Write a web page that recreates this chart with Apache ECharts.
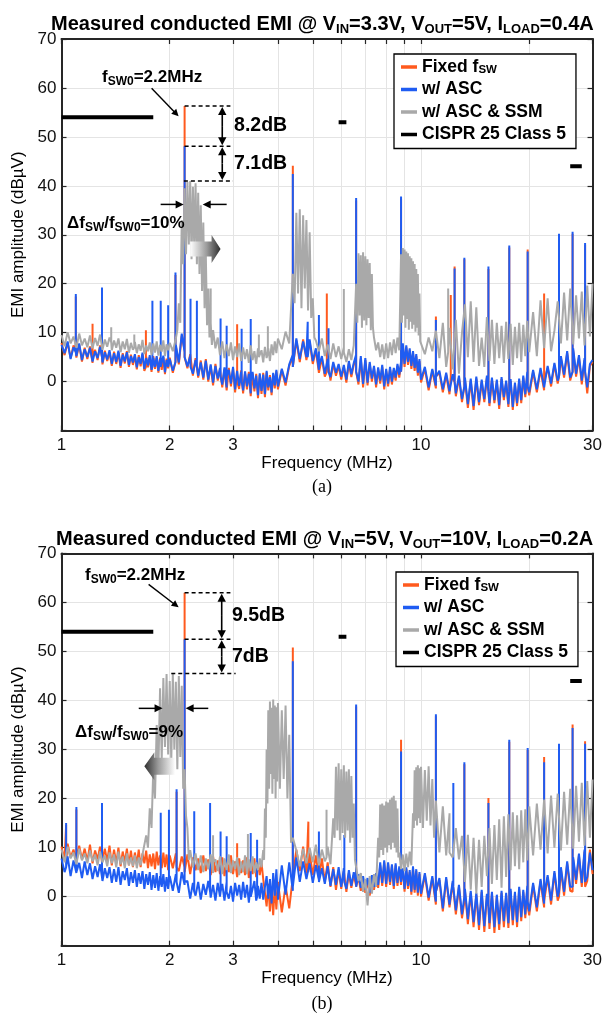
<!DOCTYPE html>
<html>
<head>
<meta charset="utf-8">
<script src="https://cdn.jsdelivr.net/npm/echarts@6/dist/echarts.min.js"></script>
<style>
html,body{margin:0;padding:0;background:#fff;}
#chart{width:605px;height:1013px;}
</style>
</head>
<body>
<div id="chart"></div>
<script>
// Sample frequencies (MHz) shared by every measured trace
const freqMHz = [
  1.00,1.02,1.04,1.06,1.08,1.10,1.12,1.14,1.16,1.18,
  1.20,1.22,1.24,1.26,1.28,1.30,1.32,1.34,1.36,1.38,
  1.40,1.42,1.44,1.46,1.48,1.50,1.52,1.54,1.56,1.58,
  1.60,1.62,1.64,1.66,1.68,1.70,1.72,1.74,1.76,1.78,
  1.80,1.82,1.84,1.86,1.88,1.90,1.92,1.94,1.96,1.98,
  2.00,2.04,2.08,2.12,2.16,2.20,2.24,2.28,2.32,2.36,
  2.40,2.44,2.48,2.52,2.56,2.60,2.64,2.68,2.72,2.76,
  2.80,2.84,2.88,2.92,2.96,3.00,3.04,3.08,3.12,3.16,
  3.20,3.24,3.28,3.32,3.36,3.40,3.44,3.48,3.52,3.56,
  3.60,3.64,3.68,3.72,3.76,3.80,3.84,3.88,3.92,3.96,
  4.0,4.1,4.2,4.3,4.4,4.5,4.6,4.7,4.8,4.9,
  5.0,5.1,5.2,5.3,5.4,5.5,5.6,5.7,5.8,5.9,
  6.0,6.1,6.2,6.3,6.4,6.5,6.6,6.7,6.8,6.9,
  7.0,7.1,7.2,7.3,7.4,7.5,7.6,7.7,7.8,7.9,
  8.0,8.1,8.2,8.3,8.4,8.5,8.6,8.7,8.8,8.9,
  9.0,9.1,9.2,9.3,9.4,9.5,9.6,9.7,9.8,9.9,
  10.0,10.25,10.5,10.75,11.0,11.25,11.5,11.75,12.0,12.25,
  12.5,12.75,13.0,13.25,13.5,13.75,14.0,14.25,14.5,14.75,
  15.0,15.25,15.5,15.75,16.0,16.25,16.5,16.75,17.0,17.25,
  17.5,17.75,18.0,18.25,18.5,18.75,19.0,19.25,19.5,19.75,
  20.0,20.5,21.0,21.5,22.0,22.5,23.0,23.5,24.0,24.5,
  25.0,25.5,26.0,26.5,27.0,27.5,28.0,28.5,29.0,29.5,
  30.0
];

// ---------- (a) VIN=3.3V, VOUT=5V, ILOAD=0.4A : levels in dBuV ----------
const fixedA = [
  7.9,5.4,8.0,4.8,7.4,4.9,7.6,4.1,6.9,4.6,
  7.2,3.8,6.5,4.4,7.4,3.5,6.3,4.2,6.0,3.2,
  6.1,3.6,6.0,2.8,5.8,3.7,6.2,3.0,5.5,3.4,
  5.3,2.5,5.4,3.1,5.6,2.2,5.1,2.9,5.0,2.0,
  5.2,2.6,4.9,1.8,4.9,2.4,5.0,1.5,4.7,2.7,
  4.9,1.8,7.2,3.5,9.4,6.4,2.7,5.6,1.2,4.8,
  0.8,4.3,0.4,4.6,0.0,3.2,-0.8,3.6,0.2,2.5,
  -1.2,2.6,-1.8,2.8,-1.0,2.7,-2.2,2.5,-1.5,2.3,
  -2.4,1.8,-1.6,2.0,-3.0,1.7,-2.0,1.6,-3.4,1.4,
  -2.5,1.8,-3.2,1.9,-1.8,1.3,-2.8,1.5,-1.4,2.1,
  -1.6,2.3,-0.8,3.2,5.0,8.4,4.0,8.6,4.4,8.2,
  3.6,6.4,1.8,4.8,1.0,4.2,0.2,3.6,1.2,3.2,
  0.4,3.0,-0.2,3.8,0.9,3.4,5.0,-0.6,4.7,-1.2,
  4.4,-0.8,3.6,0.0,2.8,-1.2,2.5,-0.4,3.0,-1.6,
  2.2,-1.0,2.6,-0.6,2.4,0.2,3.2,0.8,3.6,7.4,
  3.0,7.0,3.4,6.4,2.6,5.8,2.2,5.2,1.2,4.2,
  -0.2,2.6,-1.8,2.2,-1.4,1.8,-2.2,1.4,-2.6,1.1,
  -3.0,0.8,-4.2,0.4,-5.4,0.2,-5.8,0.6,-4.8,0.0,
  -4.2,0.8,-5.0,0.4,-4.4,0.0,-5.6,0.5,-3.8,-0.2,
  -5.2,0.1,-5.8,-0.6,-5.0,0.2,-4.4,0.8,-3.2,1.6,
  -2.8,2.0,-2.2,2.4,-1.8,2.8,-1.0,3.4,-0.4,4.8,
  0.8,5.8,0.2,6.4,1.0,5.0,-0.6,4.4,-2.4,3.2,
  4.0
];
const ascA = [
  7.5,5.8,8.2,4.6,7.0,5.2,7.8,4.4,6.6,5.0,
  6.9,4.1,6.2,4.8,7.1,3.9,6.0,4.5,6.4,3.6,
  5.8,4.0,6.3,3.2,5.5,4.1,6.0,3.4,5.2,3.9,
  5.6,2.9,5.0,3.6,5.9,2.6,4.8,3.3,5.4,2.4,
  4.9,3.0,5.2,2.2,4.6,2.8,5.3,1.9,4.4,3.1,
  4.6,2.2,7.5,3.9,9.8,6.0,3.1,5.2,1.6,4.4,
  1.2,3.9,0.8,4.3,0.4,3.5,-0.2,3.2,0.6,2.8,
  -0.6,2.9,-1.2,2.4,-0.4,3.0,-1.6,2.2,-0.9,1.9,
  -1.8,2.1,-1.0,1.6,-2.4,2.0,-1.4,1.2,-2.8,1.7,
  -1.9,1.4,-2.6,2.2,-1.2,0.9,-2.2,1.8,-0.8,2.4,
  -1.0,2.6,-0.2,3.5,5.5,8.8,4.6,8.2,5.0,8.6,
  4.2,6.8,2.4,5.2,1.6,4.6,0.9,4.0,1.8,3.6,
  1.0,3.4,0.4,4.2,1.5,3.8,5.5,0.0,5.2,-0.5,
  4.8,-0.2,4.0,0.6,3.2,-0.6,2.9,0.2,3.4,-1.0,
  2.6,-0.4,3.0,0.0,2.8,0.8,3.6,1.4,4.0,7.8,
  3.6,7.4,4.0,6.8,3.2,6.2,2.8,5.6,1.8,4.6,
  0.4,3.0,-1.2,2.6,-0.8,2.2,-1.6,1.8,-2.0,1.5,
  -2.4,1.2,-3.6,0.8,-4.6,0.6,-5.0,1.0,-4.2,0.4,
  -3.6,1.2,-4.4,0.8,-3.8,0.4,-4.8,0.9,-3.2,0.2,
  -4.6,0.5,-5.2,-0.2,-4.4,0.6,-3.8,1.2,-2.6,2.0,
  -2.2,2.4,-1.6,2.8,-1.2,3.2,-0.4,3.8,0.2,5.2,
  1.4,6.2,0.8,6.8,1.6,5.4,0.2,4.8,-1.2,3.6,
  4.4
];
const ssmA = [
  9.5,7.2,10.1,7.8,9.2,6.9,9.8,7.4,8.8,7.0,
  9.4,6.8,8.9,7.3,9.6,6.5,8.6,7.1,9.0,6.4,
  8.4,6.9,8.8,6.0,8.2,6.6,8.7,5.9,7.9,6.5,
  8.1,5.8,7.6,6.3,8.5,5.6,7.4,6.2,8.0,5.4,
  7.8,5.9,8.2,5.3,7.5,6.1,8.4,5.2,7.6,6.4,
  7.9,6.2,8.8,16.0,33.0,39.5,40.8,41.0,39.8,40.5,
  38.6,36.0,32.5,26.0,19.0,14.0,10.5,6.8,9.0,5.4,
  8.2,4.8,7.6,5.2,8.0,4.4,7.2,5.0,7.8,4.2,
  7.0,4.6,6.6,3.8,7.4,4.4,6.2,3.6,6.8,4.6,
  6.4,3.9,7.1,4.8,6.8,4.2,7.6,5.4,8.2,5.8,
  8.8,6.6,10.2,7.8,22.0,34.5,35.2,34.0,33.0,30.5,
  17.0,8.4,6.2,8.8,5.2,7.6,4.6,7.8,5.0,7.2,
  4.6,7.0,4.0,6.6,4.4,7.4,20.0,26.2,25.8,26.4,
  25.6,25.0,24.2,22.0,9.0,6.4,8.0,5.0,7.6,4.6,
  7.8,4.8,8.0,5.4,8.6,5.8,9.0,6.4,26.0,27.3,
  27.0,26.6,26.2,25.6,25.2,24.6,24.0,23.0,22.0,18.0,
  8.0,5.6,9.0,6.2,10.4,4.8,12.0,3.0,11.0,2.5,
  12.6,1.6,10.0,15.8,5.0,16.4,4.0,15.2,3.2,9.0,
  3.0,13.2,4.2,12.6,3.6,12.0,4.8,11.4,3.8,12.2,
  4.6,11.8,3.4,11.2,4.8,12.0,4.0,11.6,5.2,12.4,
  6.0,14.2,5.2,16.6,6.8,17.0,6.2,10.4,16.4,7.8,
  18.2,8.4,19.0,7.6,17.6,8.8,18.4,7.4,19.6,9.2,
  20.0
];
// extra samples inside the spread-spectrum humps: [MHz, dBuV]
const ssmBandA = [
  [2.10,10.5],[2.14,12.0],[2.18,24.0],[2.22,26.0],[2.26,28.0],[2.30,25.0],[2.34,27.5],
  [2.38,24.0],[2.42,22.0],[2.46,18.5],[2.50,15.0],[2.54,11.5],[2.58,9.0],[2.62,7.5],
  [4.45,16.0],[4.55,18.0],[4.65,15.0],[4.75,19.0],[4.85,14.5],[4.95,13.0],[5.05,9.0],
  [6.65,12.0],[6.75,13.5],[6.85,11.0],[6.95,12.5],[7.05,11.5],[7.15,13.0],[7.25,10.5],[7.35,11.0],
  [8.85,12.0],[8.95,13.5],[9.05,11.0],[9.15,12.8],[9.25,10.6],[9.35,12.2],[9.45,10.8],
  [9.55,11.6],[9.65,10.2],[9.75,11.0],[9.85,9.4],[9.95,8.2]
];
// harmonic lines: [MHz, floor dBuV, peak dBuV]
const fixedSpikesA = [
  [1.096,6.0,17.4],[1.22,5.0,11.8],[1.296,5.0,18.6],[1.717,3.0,10.5],[2.075,4.0,21.8],
  [2.2,5.0,56.3],[3.08,0.0,11.7],[4.4,3.0,44.1],[5.47,2.0,18.0],[6.6,2.0,37.0],[8.8,2.0,37.4],
  [11.0,1.0,13.3],[12.1,1.0,17.7],[12.4,0.0,23.5],[13.2,-1.0,25.0],[15.4,-2.0,23.0],
  [17.6,-2.0,27.4],[19.8,-1.0,27.0],[22.0,0.0,18.0],[24.2,1.0,29.8],[26.4,2.0,30.2],[28.6,2.0,27.9]
];
const ascSpikesA = [
  [1.096,6.0,17.9],[1.296,5.0,19.2],[1.79,3.0,16.5],[1.888,3.0,16.5],[1.98,3.0,15.6],
  [2.075,4.0,22.3],[2.2,5.0,48.1],[2.285,3.0,16.9],[2.38,3.0,16.5],[2.77,1.0,12.9],
  [2.88,1.0,11.4],[3.17,0.0,10.8],[3.36,0.0,12.8],[4.4,3.0,42.4],[4.84,5.0,12.2],
  [5.2,3.0,13.6],[5.53,2.0,10.9],[6.6,2.0,37.5],[8.8,2.0,37.8],[11.0,1.0,12.6],
  [12.4,0.0,23.1],[13.2,-1.0,25.3],[15.4,-2.0,23.5],[17.6,-2.0,27.8],[19.8,-1.0,26.6],
  [24.2,1.0,30.2],[26.4,2.0,30.6],[28.6,2.0,28.3]
];
const ssmSpikesA = [
  [1.375,8.0,11.1],[1.594,7.0,9.6],[2.6,12.0,19.0],[3.54,5.0,9.6],[3.75,6.0,11.3],
  [6.1,6.0,18.9],[11.9,6.0,19.0]
];
// peak levels marked at fSW0 = 2.2 MHz
const peakA = { fixed: 56.3, asc: 48.1, ssm: 41.0 };

// ---------- (b) VIN=5V, VOUT=10V, ILOAD=0.2A ----------
const fixedB = [
  10.2,7.4,10.8,8.0,9.6,7.0,10.4,7.6,9.8,7.2,
  10.6,6.8,9.4,7.6,10.2,6.6,9.8,7.2,10.4,6.4,
  9.6,6.8,10.0,6.2,9.2,7.0,9.8,6.4,9.4,6.0,
  9.0,6.6,9.6,6.0,8.8,6.8,9.4,5.8,8.6,6.2,
  8.8,5.6,9.2,6.4,8.4,5.8,9.0,6.0,8.6,5.4,
  8.4,5.8,8.8,5.2,8.2,6.0,8.6,4.6,8.0,5.4,
  7.8,4.8,8.4,5.2,7.6,4.4,8.2,5.0,7.4,4.6,
  8.0,4.2,7.6,5.0,8.4,4.6,7.2,4.0,7.8,4.8,
  7.4,4.4,8.0,3.8,7.2,4.6,7.8,4.0,6.8,4.4,
  7.0,3.6,4.0,-2.0,2.6,-3.0,1.8,-3.8,2.4,-2.6,
  3.0,-3.2,2.2,-2.4,4.0,9.6,5.2,10.2,4.8,9.0,
  4.4,8.4,3.8,7.8,3.0,7.0,2.0,6.0,1.4,5.4,
  1.6,5.2,1.0,4.8,1.8,4.4,2.2,4.0,1.2,3.6,
  0.8,3.2,0.2,3.8,1.4,4.4,1.8,6.4,2.2,7.0,
  2.0,6.6,2.4,6.2,1.6,6.4,2.2,5.8,2.4,5.4,
  1.0,5.6,1.6,5.0,0.4,5.8,0.8,5.2,0.2,4.6,
  0.0,4.4,-0.8,3.8,-1.6,3.4,-3.0,3.6,-2.2,2.8,
  -3.6,2.0,-4.4,1.2,-5.6,0.8,-6.2,0.4,-6.8,1.0,
  -7.2,0.2,-6.6,0.6,-7.4,0.0,-6.8,0.8,-6.2,0.4,
  -6.4,1.2,-5.8,0.6,-6.2,1.6,-5.0,1.0,-4.4,1.8,
  -3.8,2.4,-3.0,3.2,-2.2,4.0,-1.6,4.8,-0.8,5.6,
  0.2,6.8,1.2,7.6,2.6,8.4,2.0,9.2,3.2,9.6,
  4.6
];
const ascB = [
  7.8,5.0,8.2,4.2,7.4,4.8,6.9,3.8,7.2,4.4,
  6.8,3.6,6.2,4.0,6.6,3.2,5.8,3.8,6.0,2.8,
  5.6,3.0,6.0,2.4,5.2,3.4,5.8,2.2,5.0,2.8,
  5.4,2.0,4.8,2.6,5.2,1.6,4.6,2.4,5.0,1.4,
  4.4,1.8,4.8,1.2,4.2,2.0,4.6,1.0,4.0,1.6,
  4.2,1.2,4.6,0.8,5.0,2.4,3.2,-0.4,2.8,0.2,
  3.0,-0.6,2.6,0.4,3.2,-0.2,2.4,-0.8,2.8,0.0,
  2.6,-0.8,3.0,-0.4,2.2,-1.0,2.8,0.2,2.4,-0.6,
  3.0,-0.2,2.4,-1.2,2.6,0.0,3.2,-0.8,2.2,-0.4,
  2.8,-0.6,2.0,4.2,-0.4,3.6,-1.4,4.8,0.2,5.6,
  -0.6,6.4,0.4,7.0,1.2,8.0,3.0,7.2,3.6,6.8,
  2.8,6.4,3.4,5.8,2.6,6.2,2.2,5.6,2.4,6.0,
  2.0,5.8,1.6,5.4,2.2,5.0,2.8,4.6,1.8,4.2,
  1.4,3.8,0.8,4.4,2.0,4.8,2.4,7.0,2.8,7.4,
  2.6,7.0,3.0,6.6,2.2,6.8,2.8,6.2,3.0,5.8,
  1.6,6.0,2.2,5.4,1.0,6.2,1.4,5.6,0.8,5.0,
  0.6,4.8,-0.2,4.2,-1.0,3.8,-2.4,4.0,-1.6,3.2,
  -2.8,2.4,-3.6,1.6,-4.6,1.2,-5.2,0.8,-5.8,1.4,
  -6.0,0.6,-5.4,1.0,-6.2,0.4,-5.6,1.2,-5.0,0.8,
  -5.4,1.6,-4.8,1.0,-5.2,2.0,-4.2,1.4,-3.6,2.2,
  -3.0,2.8,-2.2,3.6,-1.4,4.4,-0.8,5.2,0.0,6.0,
  1.0,7.2,2.0,8.0,3.4,8.8,2.8,9.6,4.0,9.0,
  5.4
];
const ssmB = [
  9.6,7.0,10.2,7.8,9.0,6.6,9.8,7.4,8.8,6.8,
  9.4,7.2,8.6,6.4,9.2,7.0,8.4,6.2,9.0,6.8,
  8.6,6.0,9.2,6.6,8.2,5.8,8.8,6.4,8.0,6.2,
  8.4,5.8,8.0,6.4,8.6,9.0,12.5,10.0,18.0,14.0,
  26.0,20.0,35.0,26.0,42.5,28.0,44.6,30.5,45.4,29.0,
  44.0,45.5,43.8,45.0,43.0,26.0,14.0,9.5,6.0,8.8,
  5.4,8.4,5.0,7.8,5.6,8.6,4.8,7.6,5.2,8.2,
  4.6,7.8,5.4,8.6,4.8,7.4,5.6,8.0,4.4,7.2,
  5.0,8.4,4.6,7.6,5.2,8.2,4.8,7.0,5.4,7.8,
  6.0,9.5,18.0,30.0,38.0,39.8,38.5,40.2,39.0,38.6,
  39.5,38.0,39.0,33.0,12.0,9.4,6.2,9.8,6.8,10.0,
  7.0,10.6,6.4,9.6,7.2,10.2,6.6,16.0,26.5,27.2,
  26.0,26.8,25.5,26.0,24.6,19.0,6.0,3.2,4.8,1.0,
  3.6,-1.8,4.2,0.6,4.6,2.0,12.0,18.8,19.0,18.6,
  19.4,19.2,19.8,20.2,20.6,19.6,18.0,9.0,5.6,8.6,
  5.2,8.8,6.0,9.2,6.4,17.0,25.8,26.4,26.8,26.2,
  26.5,25.8,26.6,24.0,19.6,9.0,18.4,8.4,16.8,8.0,
  14.0,7.6,12.4,3.0,12.6,1.4,12.0,0.6,11.6,2.0,
  12.4,4.2,14.0,2.6,14.6,3.4,15.8,1.8,16.4,4.0,
  16.8,5.4,17.2,6.2,16.6,5.6,17.6,7.0,17.8,7.4,
  18.4,8.4,19.0,9.6,19.8,8.8,20.6,10.0,21.0,9.4,
  21.4,10.6,22.0,9.8,22.6,11.2,23.2,10.4,23.6,12.0,
  23.9
];
const ssmBandB = [
  [2.02,27.5],[2.06,30.0],[2.10,26.0],[2.14,28.5],[2.18,22.0],[2.22,16.5],[2.26,7.5],
  [3.66,7.5],[3.70,12.0],[3.74,19.0],[3.78,22.0],[3.82,25.0],[3.86,21.0],[3.90,24.0],
  [3.94,20.0],[3.98,23.5],[4.05,22.0],[4.15,24.0],[4.25,20.0],[4.35,11.0],
  [5.75,12.0],[5.85,13.5],[5.95,11.5],[6.05,13.0],[6.15,12.0],[6.25,13.5],[6.35,11.0],
  [6.45,12.0],[6.55,7.5],
  [7.65,8.0],[7.75,9.5],[7.85,8.5],[7.95,10.0],[8.05,9.0],[8.15,10.5],[8.25,9.6],
  [8.35,11.0],[8.45,10.0],[8.55,9.0],[8.65,8.0],
  [9.55,14.0],[9.65,15.5],[9.75,14.5],[9.85,16.0],[9.95,15.0],[10.125,14.0],
  [10.375,15.5],[10.625,14.5],[10.875,12.0]
];
const fixedSpikesB = [
  [1.03,7.0,14.6],[1.10,7.0,17.8],[1.296,7.0,18.6],[2.09,6.0,21.4],[2.2,5.0,62.0],
  [3.08,4.0,10.9],[4.4,4.0,50.8],[4.86,5.0,15.3],[6.6,2.0,38.8],[8.8,3.0,32.0],
  [11.0,1.0,36.8],[13.2,-1.0,27.0],[15.4,-2.0,20.1],[17.6,-3.0,31.6],[19.8,-2.0,29.9],
  [22.0,-1.0,28.5],[24.2,0.0,30.8],[26.4,1.0,35.1],[28.6,2.0,31.7]
];
const ascSpikesB = [
  [1.03,6.0,15.0],[1.10,5.0,18.3],[1.296,4.0,19.1],[1.888,3.0,17.1],[1.99,3.0,17.7],
  [2.09,3.0,21.9],[2.2,3.0,52.5],[2.34,1.0,17.4],[2.59,1.0,19.1],[2.77,1.0,13.3],
  [2.88,1.0,12.3],[3.36,0.0,13.0],[3.5,0.0,11.6],[4.4,2.0,48.0],[5.2,3.0,13.3],
  [6.12,3.0,12.6],[6.6,2.0,39.2],[8.8,3.0,29.6],[11.0,1.0,37.2],[12.3,2.0,23.2],
  [13.2,0.0,27.4],[15.4,-2.0,19.1],[17.6,-2.0,32.0],[19.8,-1.0,30.3],[22.0,0.0,27.4],
  [24.2,1.0,31.2],[26.4,2.0,34.4],[28.6,3.0,31.2]
];
const ssmSpikesB = [
  [2.64,7.0,12.5],[3.3,6.0,12.8],[5.46,8.0,17.7],[12.0,9.0,17.0]
];
const peakB = { fixed: 62.0, asc: 52.5, ssm: 45.5 };

// CISPR 25 Class 5 conducted limits: band edges (MHz) and level (dBuV)
const cisprBands = [[1.0, 1.8], [5.9, 6.2], [26.0, 28.0]];
const cisprLevels = [54, 53, 44];

// axis ticks and labels
const xTickValues = [1, 2, 3, 4, 5, 6, 7, 8, 9, 10, 20, 30];
const xLabelValues = [1, 2, 3, 10, 30];

const seriesNames = ['Fixed fSW', 'w/ ASC', 'w/ ASC & SSM', 'CISPR 25 Class 5'];
const colors = ['#ff5a1e', '#1f5cf2', '#a9a9a9', '#000000'];
const fontFamily = 'Liberation Sans, Arial, Helvetica, sans-serif';
const axisInk = '#262626';

function buildTrace(values, spikes, extra) {
  const pts = [];
  const n = Math.min(freqMHz.length, values.length);
  for (let i = 0; i < n; i++) pts.push({ f: freqMHz[i], k: 0, v: values[i] });
  (extra || []).forEach(p => pts.push({ f: p[0], k: 0, v: p[1] }));
  (spikes || []).forEach(s => {
    pts.push({ f: s[0], k: 1, v: s[1] });
    pts.push({ f: s[0], k: 2, v: s[2] });
    pts.push({ f: s[0], k: 3, v: s[1] });
  });
  pts.sort((a, b) => (a.f - b.f) || (a.k - b.k));
  return pts.map(p => [p.f, p.v]);
}

function buildLimit() {
  const out = [];
  cisprBands.forEach((b, i) => {
    out.push([b[0], cisprLevels[i]], [b[1], cisprLevels[i]], [b[1], '-']);
  });
  return out;
}

function traceSeries(idx, data, axis) {
  return {
    type: 'line', name: seriesNames[idx], data,
    xAxisIndex: axis, yAxisIndex: axis,
    showSymbol: false, symbol: 'none', silent: true, animation: false,
    lineStyle: { color: colors[idx], width: 2 },
    itemStyle: { color: colors[idx] },
    clip: true, z: 2
  };
}

function limitSeries(axis) {
  return {
    type: 'line', name: seriesNames[3], data: buildLimit(),
    xAxisIndex: axis, yAxisIndex: axis, connectNulls: false,
    showSymbol: false, symbol: 'none', silent: true, animation: false,
    lineStyle: { color: '#000', width: 4, cap: 'butt' },
    itemStyle: { color: '#000' }, z: 3
  };
}

function xAxes(gridIndex) {
  const line = { show: true, onZero: false, lineStyle: { color: axisInk, width: 2 } };
  const tick = { show: true, inside: true, length: 5, customValues: xTickValues,
                 lineStyle: { color: axisInk, width: 1.2 } };
  return [
    { type: 'log', logBase: 10, gridIndex, min: 1, max: 30, position: 'bottom',
      name: 'Frequency (MHz)', nameLocation: 'middle', nameGap: 24,
      nameTextStyle: { fontFamily, fontSize: 17, color: '#000' },
      axisLine: line, axisTick: tick,
      axisLabel: { customValues: xLabelValues, margin: 6, fontFamily, fontSize: 17, color: '#111',
                   showMinLabel: true, showMaxLabel: true,
                   formatter: v => String(+Number(v).toPrecision(3)) },
      splitLine: { show: true, lineStyle: { color: '#e4e4e4', width: 1 } },
      minorTick: { show: false }, minorSplitLine: { show: false } },
    { type: 'log', logBase: 10, gridIndex, min: 1, max: 30, position: 'top',
      axisLine: line, axisTick: tick, axisLabel: { show: false }, splitLine: { show: false } }
  ];
}

function yAxes(gridIndex) {
  const line = { show: true, onZero: false, lineStyle: { color: axisInk, width: 2 } };
  const tick = { show: true, inside: true, length: 5, lineStyle: { color: axisInk, width: 1.2 } };
  return [
    { type: 'value', gridIndex, min: -10, max: 70, interval: 10, position: 'left',
      name: 'EMI amplitude (dBµV)', nameLocation: 'middle', nameGap: 35,
      nameTextStyle: { fontFamily, fontSize: 17, color: '#000' },
      axisLine: line, axisTick: tick,
      axisLabel: { margin: 5, fontFamily, fontSize: 17, color: '#111',
                   formatter: v => (v === -10 ? '' : String(v)) },
      splitLine: { show: true, lineStyle: { color: '#e4e4e4', width: 1 } } },
    { type: 'value', gridIndex, min: -10, max: 70, interval: 10, position: 'right',
      axisLine: line, axisTick: tick, axisLabel: { show: false }, splitLine: { show: false } }
  ];
}

const subRich = {
  s: { fontFamily, fontSize: 13, fontWeight: 'bold', color: '#000', verticalAlign: 'bottom', lineHeight: 14 }
};

function titleAt(left, top, text) {
  return {
    text, left, top,
    textStyle: { fontFamily, fontSize: 20, fontWeight: 'bold', color: '#000', lineHeight: 24, rich: subRich }
  };
}

function legendAt(left, top) {
  return {
    orient: 'vertical', left, top, data: seriesNames.slice(),
    icon: 'rect', itemWidth: 16, itemHeight: 3.5, itemGap: 4.5,
    padding: [4, 10, 5, 7], borderColor: '#000', borderWidth: 1.3, backgroundColor: '#fff',
    selectedMode: false,
    textStyle: { fontFamily, fontSize: 17.5, fontWeight: 'bold', color: '#000', lineHeight: 18,
      rich: {
        m: { fontFamily, fontSize: 17.5, fontWeight: 'bold', color: '#000', lineHeight: 18 },
        s: { fontFamily, fontSize: 11.5, fontWeight: 'bold', color: '#000', verticalAlign: 'bottom', lineHeight: 12 }
      } },
    formatter: n => (n === seriesNames[0] ? '{m|Fixed f}{s|SW}' : n)
  };
}

const chart = echarts.init(document.getElementById('chart'), null, { width: 605, height: 1013 });

chart.setOption({
  animation: false,
  backgroundColor: '#fff',
  textStyle: { fontFamily },
  title: [
    titleAt(46, 7, 'Measured conducted EMI @ V{s|IN}=3.3V, V{s|OUT}=5V, I{s|LOAD}=0.4A'),
    titleAt(51, 522, 'Measured conducted EMI @ V{s|IN}=5V, V{s|OUT}=10V, I{s|LOAD}=0.2A')
  ],
  legend: [legendAt(394, 54), legendAt(396, 572)],
  grid: [
    { left: 61.5, top: 39, width: 535.5, height: 391.5, containLabel: false },
    { left: 61.5, top: 553.4, width: 535.5, height: 392.3, containLabel: false }
  ],
  xAxis: [...xAxes(0), ...xAxes(1)],
  yAxis: [...yAxes(0), ...yAxes(1)],
  series: [
    traceSeries(0, buildTrace(fixedA, fixedSpikesA), 0),
    traceSeries(1, buildTrace(ascA, ascSpikesA), 0),
    traceSeries(2, buildTrace(ssmA, ssmSpikesA, ssmBandA), 0),
    limitSeries(0),
    traceSeries(0, buildTrace(fixedB, fixedSpikesB), 2),
    traceSeries(1, buildTrace(ascB, ascSpikesB), 2),
    traceSeries(2, buildTrace(ssmB, ssmSpikesB, ssmBandB), 2),
    limitSeries(2)
  ]
});

// ---------- annotations ----------
function buildNotes() {
  const els = [];
  const P = (axis, f, v) => chart.convertToPixel({ xAxisIndex: axis, yAxisIndex: axis }, [f, v]);
  const seg = (a, b, dash, w) => ({ type: 'line', silent: true, z: 60,
    shape: { x1: a[0], y1: a[1], x2: b[0], y2: b[1] },
    style: { stroke: '#000', lineWidth: w || 1.5, lineDash: dash || null } });
  const head = (tip, from, len, half) => {
    const dx = tip[0] - from[0], dy = tip[1] - from[1];
    const d = Math.hypot(dx, dy) || 1, ux = dx / d, uy = dy / d;
    const bx = tip[0] - ux * len, by = tip[1] - uy * len;
    return { type: 'polygon', silent: true, z: 61,
      shape: { points: [tip, [bx - uy * half, by + ux * half], [bx + uy * half, by - ux * half]] },
      style: { fill: '#000' } };
  };
  const arrow = (from, tip, len, half, w) => {
    const dx = tip[0] - from[0], dy = tip[1] - from[1];
    const d = Math.hypot(dx, dy) || 1;
    const end = [tip[0] - dx / d * (len - 1), tip[1] - dy / d * (len - 1)];
    els.push(seg(from, end, null, w || 1.5), head(tip, from, len, half));
  };
  const dbl = (a, b) => {
    const mid = [(a[0] + b[0]) / 2, (a[1] + b[1]) / 2];
    arrow(mid, a, 8, 4.2, 1.6);
    arrow(mid, b, 8, 4.2, 1.6);
  };
  const rich = {
    m: { fill: '#000', fontFamily, fontSize: 17, fontWeight: 'bold', lineHeight: 22 },
    s: { fill: '#000', fontFamily, fontSize: 12, fontWeight: 'bold', lineHeight: 13, verticalAlign: 'bottom' },
    b: { fill: '#000', fontFamily, fontSize: 19.5, fontWeight: 'bold', lineHeight: 24 }
  };
  const label = (x, y, text) => ({ type: 'text', silent: true, z: 62, x, y,
    style: { text, rich, fill: '#000', fontFamily, fontSize: 17, fontWeight: 'bold',
             align: 'left', verticalAlign: 'middle' } });
  const blockArrow = (x0, x1, yc, bodyHalf, headHalf, headLen, pointRight) => {
    let pts;
    if (pointRight) {
      const hx = x1 - headLen;
      pts = [[x0, yc - bodyHalf], [hx, yc - bodyHalf], [hx, yc - headHalf], [x1, yc],
             [hx, yc + headHalf], [hx, yc + bodyHalf], [x0, yc + bodyHalf]];
    } else {
      const hx = x0 + headLen;
      pts = [[x1, yc - bodyHalf], [hx, yc - bodyHalf], [hx, yc - headHalf], [x0, yc],
             [hx, yc + headHalf], [hx, yc + bodyHalf], [x1, yc + bodyHalf]];
    }
    const stops = pointRight
      ? [{ offset: 0, color: '#ffffff' }, { offset: 0.55, color: '#9a9a9a' }, { offset: 1, color: '#2e2e2e' }]
      : [{ offset: 0, color: '#2e2e2e' }, { offset: 0.45, color: '#9a9a9a' }, { offset: 1, color: '#ffffff' }];
    els.push({ type: 'polygon', silent: true, z: 59, shape: { points: pts },
      style: { fill: new echarts.graphic.LinearGradient(0, 0, 1, 0, stops) } });
  };

  // ----- plot (a) -----
  {
    const ax = 0, lv = peakA;
    const xPk = P(ax, 2.2, 0)[0];
    const xEnd = P(ax, 2.95, 0)[0];
    const yF = P(ax, 2.2, lv.fixed)[1], yA = P(ax, 2.2, lv.asc)[1], yS = P(ax, 2.2, lv.ssm)[1];
    els.push(seg([xPk, yF], [xEnd, yF], [4, 3]));
    els.push(seg([xPk, yA], [xEnd, yA], [4, 3]));
    els.push(seg([P(ax, 2.19, 0)[0], yS], [P(ax, 3.0, 0)[0], yS], [4, 3]));
    const xa = P(ax, 2.80, 0)[0];
    dbl([xa, yF + 1], [xa, yA - 1]);
    dbl([xa, yA + 1], [xa, yS - 1]);
    const xt = P(ax, 3.02, 0)[0];
    els.push(label(xt, (yF + yA) / 2, '{b|8.2dB}'));
    els.push(label(xt, (yA + yS) / 2, '{b|7.1dB}'));
    els.push(label(102, 77, '{m|f}{s|SW0}{m|=2.2MHz}'));
    const tip = P(ax, 2.2, 54.2); tip[0] -= 6;
    arrow([tip[0] - 27, tip[1] - 28], tip, 7, 3.5, 1.4);
    const yd = P(ax, 2.2, 36.2)[1];
    arrow([P(ax, 1.887, 0)[0], yd], [xPk - 1, yd], 8, 4, 1.5);
    arrow([P(ax, 2.88, 0)[0], yd], [P(ax, 2.47, 0)[0], yd], 8, 4, 1.5);
    els.push(label(67, 223, '{m|Δf}{s|SW}{m|/f}{s|SW0}{m|=10%}'));
    blockArrow(P(ax, 2.28, 0)[0], P(ax, 2.77, 0)[0], P(ax, 2.2, 27.1)[1], 7.5, 14, 9, true);
  }
  // ----- plot (b) -----
  {
    const ax = 2, lv = peakB;
    const xPk = P(ax, 2.2, 0)[0];
    const xEnd = P(ax, 2.95, 0)[0];
    const yF = P(ax, 2.2, lv.fixed)[1], yA = P(ax, 2.2, lv.asc)[1], yS = P(ax, 2.2, lv.ssm)[1];
    els.push(seg([xPk, yF], [xEnd, yF], [4, 3]));
    els.push(seg([xPk, yA], [xEnd, yA], [4, 3]));
    els.push(seg([P(ax, 2.02, 0)[0], yS], [P(ax, 3.05, 0)[0], yS], [4, 3]));
    const xa = P(ax, 2.79, 0)[0];
    dbl([xa, yF + 1], [xa, yA - 1]);
    dbl([xa, yA + 1], [xa, yS - 1]);
    const xt = P(ax, 2.98, 0)[0];
    els.push(label(xt, (yF + yA) / 2, '{b|9.5dB}'));
    els.push(label(xt, (yA + yS) / 2, '{b|7dB}'));
    els.push(label(85, 575, '{m|f}{s|SW0}{m|=2.2MHz}'));
    const tip = P(ax, 2.2, 59.0); tip[0] -= 6;
    arrow([tip[0] - 30, tip[1] - 23], tip, 7, 3.5, 1.4);
    const yd = P(ax, 2.2, 38.4)[1];
    arrow([P(ax, 1.64, 0)[0], yd], [P(ax, 1.91, 0)[0], yd], 8, 4, 1.5);
    arrow([P(ax, 2.56, 0)[0], yd], [xPk + 1, yd], 8, 4, 1.5);
    els.push(label(75, 732, '{m|Δf}{s|SW}{m|/f}{s|SW0}{m|=9%}'));
    blockArrow(P(ax, 1.70, 0)[0], P(ax, 2.07, 0)[0], P(ax, 2.2, 26.6)[1], 8.5, 14, 10, false);
  }
  // panel captions
  const cap = (y, t) => ({ type: 'text', silent: true, x: 322, y,
    style: { text: t, fill: '#000', fontFamily: 'Liberation Serif, Times New Roman, serif',
             fontSize: 18, align: 'center', verticalAlign: 'middle' } });
  els.push(cap(487, '(a)'), cap(1004, '(b)'));
  return els;
}

chart.setOption({ graphic: buildNotes() });
</script>
</body>
</html>
